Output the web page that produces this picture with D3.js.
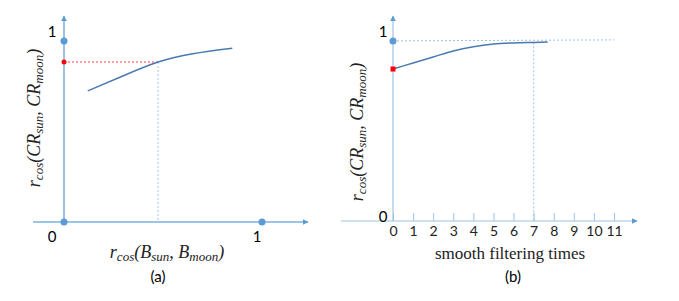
<!DOCTYPE html>
<html>
<head>
<meta charset="utf-8">
<script src="https://cdn.jsdelivr.net/npm/d3@7"></script>
<style>
  body { margin: 0; background: #fff; }
  .tick text { font-family: Lato, "Open Sans", sans-serif; font-size: 14px; fill: #222; }
  .serif { font-family: "Liberation Serif", "DejaVu Serif", serif; font-style: italic; fill: #222; }
</style>
</head>
<body>
<svg></svg>
<script>
var w = 679, h = 301;

// panel (a) curve: r_cos(B) vs r_cos(CR)
var aX = [0.12, 0.3, 0.475, 0.65, 0.85];
var aY = [0.69, 0.77, 0.842, 0.886, 0.915];
var aRef = [0.475, 0.842];
var aTop = 0.953;

// panel (b) curve: smoothing times vs r_cos(CR)
var bT = [0, 1, 2, 3, 4, 5, 6, 7, 7.7];
var bY = [0.804, 0.836, 0.868, 0.9, 0.922, 0.936, 0.942, 0.945, 0.947];
var bTicks = [0, 1, 2, 3, 4, 5, 6, 7, 8, 9, 10, 11];
var bLimit = 0.953;
var bMark = 7;

var axisCol = "#9dc3e6", dotCol = "#5b9bd5", lineCol = "#4a7ab0";

var svg = d3.select("svg").attr("width", w).attr("height", h);

var defs = svg.append("defs");
defs.append("marker")
  .attr("id", "arr")
  .attr("viewBox", "0 0 10 10")
  .attr("refX", 9).attr("refY", 5)
  .attr("markerWidth", 6).attr("markerHeight", 6)
  .attr("markerUnits", "userSpaceOnUse")
  .attr("orient", "auto")
  .append("path")
  .attr("d", "M0,0L10,5L0,10z")
  .attr("fill", dotCol);

function rcosLabel(g, x, y, rotate, parts) {
  var t = g.append("text")
    .attr("class", "serif")
    .attr("text-anchor", "middle")
    .attr("transform", "translate(" + x + "," + y + ")" + (rotate ? " rotate(-90)" : ""))
    .style("font-size", "18px");
  parts.forEach(function(p) {
    var s = t.append("tspan").text(p[0]);
    if (p[1]) s.attr("baseline-shift", "-20%").style("font-size", "13px");
  });
  return t;
}

// ---------- panel (a) ----------
var xa = d3.scaleLinear().domain([0, 1]).range([64, 262]);
var ya = d3.scaleLinear().domain([0, 1]).range([222, 32]);
var ga = svg.append("g");

ga.append("line").attr("x1", 33).attr("x2", 308).attr("y1", ya(0)).attr("y2", ya(0))
  .attr("stroke", axisCol).attr("stroke-width", 2).attr("marker-end", "url(#arr)");
ga.append("line").attr("x1", xa(0)).attr("x2", xa(0)).attr("y1", 225).attr("y2", 16)
  .attr("stroke", axisCol).attr("stroke-width", 2).attr("marker-end", "url(#arr)");

ga.append("line").attr("x1", xa(0)).attr("x2", xa(aRef[0])).attr("y1", ya(aRef[1])).attr("y2", ya(aRef[1]))
  .attr("stroke", "#ff4040").attr("stroke-dasharray", "2,2");
ga.append("line").attr("x1", xa(aRef[0])).attr("x2", xa(aRef[0])).attr("y1", ya(aRef[1])).attr("y2", ya(0))
  .attr("stroke", axisCol).attr("stroke-dasharray", "2,2");

ga.append("path")
  .datum(d3.zip(aX, aY))
  .attr("fill", "none").attr("stroke", lineCol).attr("stroke-width", 1.5)
  .attr("d", d3.line().x(function(d){ return xa(d[0]); }).y(function(d){ return ya(d[1]); }).curve(d3.curveNatural));

[[0, 0], [1, 0], [0, aTop]].forEach(function(p) {
  ga.append("circle").attr("cx", xa(p[0])).attr("cy", ya(p[1])).attr("r", 3.5).attr("fill", dotCol);
});
ga.append("circle").attr("cx", xa(0)).attr("cy", ya(aRef[1])).attr("r", 2.5).attr("fill", "#ff0000");

ga.append("text").attr("x", 52).attr("y", 37).attr("text-anchor", "middle")
  .style("font-family", "Lato, sans-serif").style("font-size", "15px").text("1");
ga.append("text").attr("x", 52).attr("y", 242).attr("text-anchor", "middle")
  .style("font-family", "Lato, sans-serif").style("font-size", "15px").text("0");
ga.append("text").attr("x", 257).attr("y", 242).attr("text-anchor", "middle")
  .style("font-family", "Lato, sans-serif").style("font-size", "15px").text("1");

rcosLabel(ga, 40, 118, true, [["r"], ["cos", 1], ["(CR"], ["sun", 1], [", CR"], ["moon", 1], [")"]]);
rcosLabel(ga, 167, 258, false, [["r"], ["cos", 1], ["(B"], ["sun", 1], [", B"], ["moon", 1], [")"]]);
ga.append("text").attr("x", 158).attr("y", 282).attr("text-anchor", "middle")
  .style("font-family", "Lato, sans-serif").style("font-size", "15px").text("(a)");

// ---------- panel (b) ----------
var xb = d3.scaleLinear().domain([0, 11]).range([393, 614]);
var yb = d3.scaleLinear().domain([0, 1]).range([221, 32]);
var gb = svg.append("g");

gb.append("g")
  .attr("transform", "translate(0," + yb(0) + ")")
  .call(d3.axisBottom(xb).tickValues(bTicks).tickSize(-8).tickPadding(5).tickFormat(d3.format("d")))
  .call(function(g) {
    g.select(".domain").remove();
    g.selectAll(".tick line").attr("stroke", axisCol);
    g.selectAll(".tick text").attr("font-family", null).attr("font-size", null);
  });

gb.append("line").attr("x1", 341).attr("x2", 637).attr("y1", yb(0)).attr("y2", yb(0))
  .attr("stroke", axisCol).attr("stroke-width", 1.2).attr("marker-end", "url(#arr)");
gb.append("line").attr("x1", xb(0)).attr("x2", xb(0)).attr("y1", yb(0)).attr("y2", 16)
  .attr("stroke", axisCol).attr("stroke-width", 1.2).attr("marker-end", "url(#arr)");

gb.append("line").attr("x1", xb(0)).attr("x2", xb(11)).attr("y1", yb(bLimit)).attr("y2", yb(bLimit) - 1)
  .attr("stroke", axisCol).attr("stroke-dasharray", "2,2");
gb.append("line").attr("x1", xb(bMark)).attr("x2", xb(bMark)).attr("y1", yb(bY[7])).attr("y2", yb(0))
  .attr("stroke", axisCol).attr("stroke-dasharray", "2,2");

gb.append("path")
  .datum(d3.zip(bT, bY))
  .attr("fill", "none").attr("stroke", lineCol).attr("stroke-width", 1.5)
  .attr("d", d3.line().x(function(d){ return xb(d[0]); }).y(function(d){ return yb(d[1]); }).curve(d3.curveMonotoneX));

gb.append("circle").attr("cx", xb(0)).attr("cy", yb(bLimit)).attr("r", 3.5).attr("fill", dotCol);
gb.append("rect").attr("x", xb(0) - 2.5).attr("y", yb(bY[0]) - 2.5).attr("width", 5).attr("height", 5).attr("fill", "#ff0000");

gb.append("text").attr("x", 383).attr("y", 37).attr("text-anchor", "middle")
  .style("font-family", "Lato, sans-serif").style("font-size", "15px").text("1");
gb.append("text").attr("x", 383).attr("y", 222).attr("text-anchor", "middle")
  .style("font-family", "Lato, sans-serif").style("font-size", "15px").text("0");

rcosLabel(gb, 363, 132, true, [["r"], ["cos", 1], ["(CR"], ["sun", 1], [", CR"], ["moon", 1], [")"]]);
gb.append("text").attr("class", "serif").attr("x", 510).attr("y", 259).attr("text-anchor", "middle")
  .style("font-style", "normal").style("font-size", "17px").text("smooth filtering times");
gb.append("text").attr("x", 513).attr("y", 282).attr("text-anchor", "middle")
  .style("font-family", "Lato, sans-serif").style("font-size", "15px").text("(b)");
</script>
</body>
</html>
